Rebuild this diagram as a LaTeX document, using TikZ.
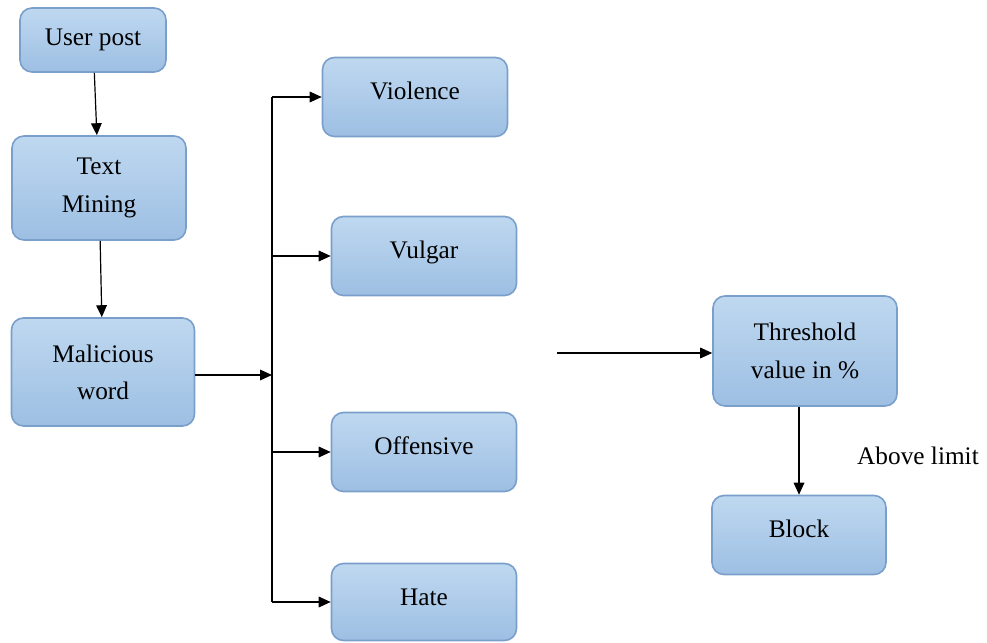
\documentclass[tikz,border=0pt]{standalone}
\usepackage{fontspec}
\setmainfont{Liberation Serif}
\usetikzlibrary{arrows.meta}
\definecolor{boxtop}{HTML}{BFD8F0}
\definecolor{boxbottom}{HTML}{9DBFE3}
\definecolor{boxline}{HTML}{7B9FCB}

\begin{document}
\begin{tikzpicture}[x=0.0264cm, y=-0.0264cm,
  every text node part/.style={align=center},
  blockbox/.style={draw=boxline, line width=1.2pt, rounded corners=9pt,
    top color=boxtop, bottom color=boxbottom,
    font=\fontsize{19}{28}\selectfont},
  onelinebox/.style={blockbox, text height=1em, text depth=0.55em},
  link/.style={line width=0.9pt, -{Triangle[length=9pt,width=8pt]}}]
\useasboundingbox (0,0) rectangle (987,643);
% left column
\node[blockbox, minimum width=146*0.0264cm, minimum height=64*0.0264cm] (userpost) at (93,40) {User post};
\node[blockbox, minimum width=174*0.0264cm, minimum height=104*0.0264cm] (textmining) at (99,188) {Text\\Mining};
\node[blockbox, minimum width=183*0.0264cm, minimum height=108*0.0264cm] (malicious) at (103,372) {Malicious\\word};
% categories
\node[onelinebox, minimum width=185*0.0264cm, minimum height=79*0.0264cm] (violence) at (415,97) {Violence};
\node[onelinebox, minimum width=185*0.0264cm, minimum height=79*0.0264cm] (vulgar) at (424,256) {Vulgar};
\node[onelinebox, minimum width=185*0.0264cm, minimum height=79*0.0264cm] (offensive) at (424,452) {Offensive};
\node[onelinebox, minimum width=185*0.0264cm, minimum height=77*0.0264cm] (hate) at (424,602) {Hate};
% right side
\node[blockbox, minimum width=184*0.0264cm, minimum height=110*0.0264cm] (threshold) at (805,351) {Threshold\\value in \%};
\node[onelinebox, minimum width=174*0.0264cm, minimum height=79*0.0264cm] (block) at (799,535) {Block};
\node[font=\fontsize{19}{23}\selectfont] (abovelimit) at (918,456) {Above limit};
\coordinate (split) at (272,375);
\coordinate (free) at (557,353);

\draw[link] (userpost) -- (textmining);
\draw[link] (textmining) -- (malicious);
\draw[link] (malicious.east |- split) -- (split);
\draw[line width=0.9pt] (split |- violence) -- (split |- hate);
\draw[link] (split |- violence) -- (violence);
\draw[link] (split |- vulgar) -- (vulgar);
\draw[link] (split |- offensive) -- (offensive);
\draw[link] (split |- hate) -- (hate);
\draw[link] (free) -- (free -| threshold.west);
\draw[link] (block.north |- threshold.south) -- (block);
\end{tikzpicture}
\end{document}
